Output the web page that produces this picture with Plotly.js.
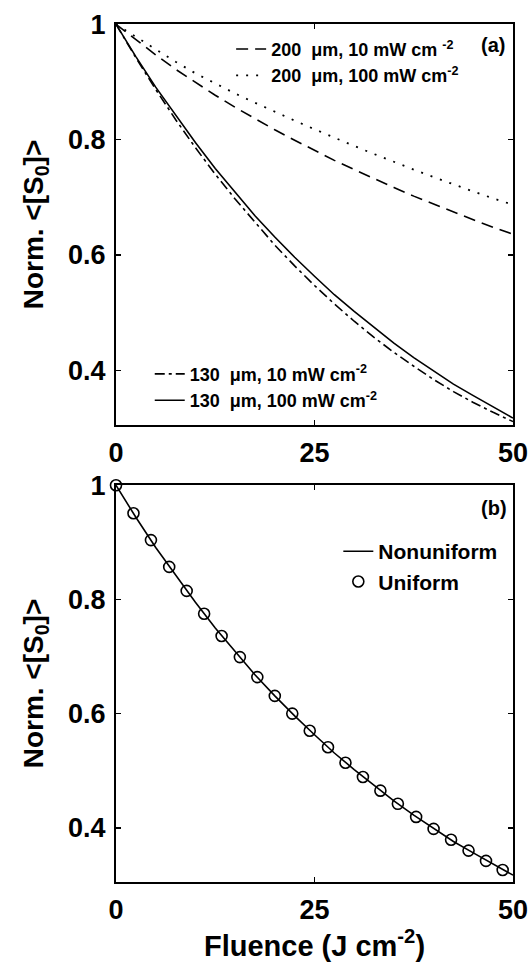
<!DOCTYPE html>
<html>
<head>
<meta charset="utf-8">
<script src="https://cdn.plot.ly/plotly-3.0.1.min.js"></script>
<style>html,body{margin:0;padding:0;background:#fff;}</style>
</head>
<body>
<div id="chart" style="width:532px;height:964px;"></div>
<script>
// ---- data ----
const fluence = [0, 2.5, 5, 7.5, 10, 12.5, 15, 17.5, 20, 22.5, 25, 27.5, 30, 32.5, 35, 37.5, 40, 42.5, 45, 47.5, 50];
const s200_10 = [1, 0.973, 0.947, 0.922, 0.899, 0.877, 0.856, 0.836, 0.817, 0.799, 0.781, 0.764, 0.748, 0.732, 0.717, 0.702, 0.688, 0.674, 0.661, 0.648, 0.636];
const s200_100 = [1, 0.978, 0.956, 0.935, 0.915, 0.897, 0.880, 0.864, 0.848, 0.833, 0.818, 0.803, 0.789, 0.775, 0.761, 0.748, 0.735, 0.722, 0.710, 0.698, 0.687];
const s130_10 = [1, 0.942, 0.887, 0.835, 0.786, 0.740, 0.697, 0.656, 0.617, 0.581, 0.547, 0.515, 0.485, 0.457, 0.431, 0.407, 0.384, 0.363, 0.344, 0.327, 0.311];
const s130_100 = [1, 0.944, 0.891, 0.842, 0.795, 0.750, 0.708, 0.668, 0.631, 0.596, 0.563, 0.531, 0.502, 0.474, 0.447, 0.422, 0.399, 0.376, 0.356, 0.336, 0.317];
const nonuniform = [1, 0.944, 0.891, 0.842, 0.795, 0.750, 0.708, 0.668, 0.631, 0.596, 0.563, 0.531, 0.502, 0.474, 0.447, 0.422, 0.399, 0.376, 0.356, 0.336, 0.317];
const uniformX = [0, 2.2, 4.4, 6.7, 8.9, 11.1, 13.3, 15.6, 17.8, 20.0, 22.2, 24.4, 26.7, 28.9, 31.1, 33.3, 35.5, 37.8, 40.0, 42.2, 44.4, 46.6, 48.7];
const uniformY = [1, 0.951, 0.904, 0.857, 0.815, 0.775, 0.736, 0.699, 0.664, 0.631, 0.600, 0.570, 0.541, 0.514, 0.489, 0.465, 0.442, 0.419, 0.398, 0.379, 0.360, 0.342, 0.326];
const xTicks = [0, 25, 50];
const xTickText = ['0', '25', '50'];
const yTicks = [0.4, 0.6, 0.8, 1];
const yTickText = ['0.4', '0.6', '0.8', '1'];
const names = [
  '200  μm, 10 mW cm <sup>-2</sup>',
  '200  μm, 100 mW cm<sup>-2</sup>',
  '130  μm, 10 mW cm<sup>-2</sup>',
  '130  μm, 100 mW cm<sup>-2</sup>',
  'Nonuniform',
  'Uniform'
];

// ---- chart ----
const FONT = 'Liberation Sans, Arial, sans-serif';
const black = '#000';
const lw = 1.6;

const traces = [
  {x: fluence, y: s200_10, name: names[0], mode: 'lines', xaxis: 'x', yaxis: 'y', legend: 'legend',
   line: {color: black, width: lw, dash: '12px,7px'}},
  {x: fluence, y: s200_100, name: names[1], mode: 'lines', xaxis: 'x', yaxis: 'y', legend: 'legend',
   line: {color: black, width: 1.8, dash: '2px,8px'}},
  {x: fluence, y: s130_10, name: names[2], mode: 'lines', xaxis: 'x', yaxis: 'y', legend: 'legend2',
   line: {color: black, width: lw, dash: '10px,4px,3px,4px'}},
  {x: fluence, y: s130_100, name: names[3], mode: 'lines', xaxis: 'x', yaxis: 'y', legend: 'legend2',
   line: {color: black, width: lw}},
  {x: fluence, y: nonuniform, name: names[4], mode: 'lines', xaxis: 'x2', yaxis: 'y2', legend: 'legend3',
   line: {color: black, width: lw}},
  {x: uniformX, y: uniformY, name: names[5], mode: 'markers', xaxis: 'x2', yaxis: 'y2', legend: 'legend3',
   cliponaxis: false,
   marker: {symbol: 'circle-open', size: 11, color: black, line: {width: 1.6, color: black}}}
];

function xax(extra) {
  return Object.assign({
    range: [0, 50], tickmode: 'array', tickvals: xTicks, ticktext: xTickText,
    ticks: 'inside', ticklen: 5, tickwidth: 1.5, tickcolor: black,
    showline: true, linewidth: 2, linecolor: black, mirror: 'ticks',
    showgrid: false, zeroline: false, ticklabelstandoff: 3,
    tickfont: {family: FONT, size: 27, color: black, weight: 'bold'}
  }, extra);
}
function yax(extra) {
  return Object.assign({
    range: [0.305, 1.0005], tickmode: 'array', tickvals: yTicks, ticktext: yTickText,
    ticks: 'inside', ticklen: 5, tickwidth: 1.5, tickcolor: black,
    showline: true, linewidth: 2, linecolor: black, mirror: 'ticks',
    showgrid: false, zeroline: false, ticklabelstandoff: 3,
    tickfont: {family: FONT, size: 27, color: black, weight: 'bold'},
    title: {text: '<b>Norm. <[S<sub>0</sub>]></b>', standoff: 16,
            font: {family: FONT, size: 28, color: black, weight: 'bold'}}
  }, extra);
}
const legFont = {family: FONT, size: 18, color: black, weight: 'bold'};
const layout = {
  width: 532, height: 964,
  margin: {l: 116, r: 19, t: 24, b: 82},
  paper_bgcolor: '#fff', plot_bgcolor: '#fff',
  font: {family: FONT, color: black},
  xaxis: xax({anchor: 'y', domain: [0, 1]}),
  yaxis: yax({anchor: 'x', domain: [0.5326, 1]}),
  xaxis2: xax({anchor: 'y2', domain: [0, 1],
    title: {text: '<b>Fluence (J cm<sup>-2</sup>)</b>', standoff: 8,
            font: {family: FONT, size: 29, color: black, weight: 'bold'}}}),
  yaxis2: yax({anchor: 'x2', domain: [0, 0.4627]}),
  showlegend: true,
  legend: {x: 0.29, y: 0.992, xanchor: 'left', yanchor: 'top', bgcolor: 'rgba(0,0,0,0)',
           font: legFont, tracegroupgap: 0, itemwidth: 30},
  legend2: {x: 0.085, y: 0.540, xanchor: 'left', yanchor: 'bottom', bgcolor: 'rgba(0,0,0,0)',
            font: legFont, tracegroupgap: 0, itemwidth: 30},
  legend3: {x: 0.56, y: 0.409, xanchor: 'left', yanchor: 'top', bgcolor: 'rgba(0,0,0,0)',
            font: {family: FONT, size: 21, color: black, weight: 'bold'}, tracegroupgap: 0, itemwidth: 30},
  annotations: [
    {text: '<b>(a)</b>', xref: 'x domain', yref: 'y domain', x: 0.985, y: 0.947, xanchor: 'right', yanchor: 'middle',
     showarrow: false, font: {family: FONT, size: 20, color: black}},
    {text: '<b>(b)</b>', xref: 'x2 domain', yref: 'y2 domain', x: 0.99, y: 0.942, xanchor: 'right', yanchor: 'middle',
     showarrow: false, font: {family: FONT, size: 20, color: black}}
  ]
};

Plotly.newPlot('chart', traces, layout, {staticPlot: true, displayModeBar: false});
</script>
</body>
</html>
